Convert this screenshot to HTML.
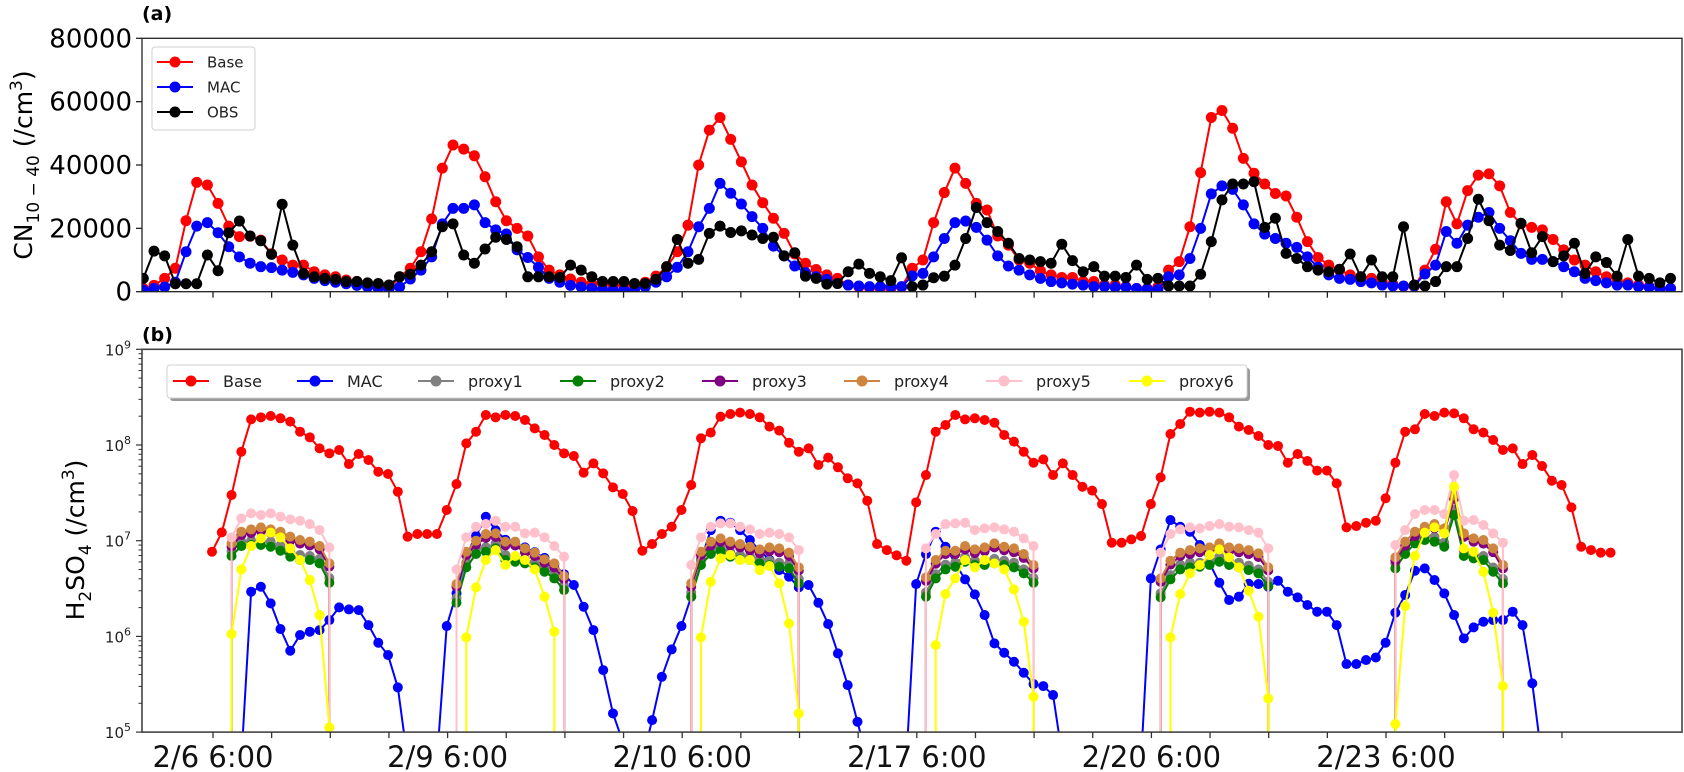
<!DOCTYPE html>
<html><head><meta charset="utf-8"><title>CN and H2SO4 time series</title>
<style>
html,body{margin:0;padding:0;background:#fff;width:1684px;height:772px;overflow:hidden;}
svg{display:block;font-family:"DejaVu Sans","Liberation Sans",sans-serif;}
</style></head>
<body>
<svg id="chart" width="1684" height="772" viewBox="0 0 1684 772" xmlns="http://www.w3.org/2000/svg" overflow="hidden">
<defs>
<clipPath id="clipA"><rect x="142" y="38" width="1540" height="254"/></clipPath>
<clipPath id="clipB"><rect x="142" y="349" width="1540" height="383"/></clipPath>
</defs>
<rect width="1684" height="772" fill="#fff"/>
<text x="142" y="20" font-size="19" font-weight="bold">(a)</text>
<text x="142" y="341" font-size="19" font-weight="bold">(b)</text>
<text transform="translate(32,165) rotate(-90)" text-anchor="middle" font-size="25">CN<tspan font-size="17" dy="7">10 − 40</tspan><tspan dy="-7"> (/cm</tspan><tspan font-size="17" dy="-10">3</tspan><tspan dy="10">)</tspan></text>
<text transform="translate(84,540) rotate(-90)" text-anchor="middle" font-size="25">H<tspan font-size="17" dy="7">2</tspan><tspan dy="-7">SO</tspan><tspan font-size="17" dy="7">4</tspan><tspan dy="-7"> (/cm</tspan><tspan font-size="17" dy="-10">3</tspan><tspan dy="10">)</tspan></text>
<g id="axA"></g>
<g id="axB"></g>
</svg>
<script>
// ---------- Panel (a) data: CN10-40 (/cm3) ----------
const aBase = [1000,2000,4200,7400,22400,34500,33700,27900,20700,17400,
17500,16300,12000,10000,8400,8400,6300,5300,4700,3700,
3200,2600,1500,1000,4700,7400,12600,23000,39000,46300,
45000,42900,36300,28400,22400,20000,17600,11000,6800,5300,
4000,3000,2500,2500,2000,2000,1800,3000,4900,7700,
12600,21000,40000,51000,55000,48100,41000,33700,28100,23200,
18400,11900,9000,7000,5300,4200,2100,1500,1200,1000,
1000,1500,7400,10000,21800,31300,39000,34200,27900,25800,
17600,14700,10000,9000,6600,5300,4500,4500,3200,3200,
2100,2100,1600,1000,1000,1500,6800,9500,20500,37600,
55000,57200,51600,42100,37400,34000,31000,30200,23500,15800,
10800,8400,6800,5300,4700,4200,3200,2400,1700,1700,
6800,13400,28400,21400,31900,36800,37200,33400,25000,21400,
20300,19500,16500,13200,10000,8400,6300,4700,3700,2800,
2100,1600,1000,1000];
const aMac = [500,1000,1500,3000,12600,20700,21800,18600,14200,11000,
9000,7900,7600,6800,6100,5300,4200,3500,3000,2500,
2000,1500,1000,800,1500,4000,6800,11000,21400,26300,
26300,27400,21800,19500,18200,13200,10800,7700,4200,3000,
2000,1500,1000,800,500,500,800,1500,3000,4700,
7700,12600,20500,26300,34200,31100,27700,23700,20000,14400,
11300,8100,6000,4700,3900,2600,2100,1800,1600,1600,
1600,1600,5000,5800,11000,16800,21800,22300,20300,16300,
11300,8100,6800,5300,4200,3200,2800,2400,2100,1600,
1600,1400,1400,1000,800,700,4700,5300,10500,20000,
30900,33400,32300,27400,21400,18200,16800,15300,14000,11000,
7700,5300,4200,3900,3200,2800,2100,1800,1800,1800,
5600,8400,19000,15300,21000,23500,25000,20000,16100,12100,
10200,10200,9500,7900,6300,4200,3500,2800,2100,2100,
1600,1400,1000,1000];
const aObs = [4200,12800,11300,2500,2500,2500,11600,6600,18600,22300,
17600,16100,11800,27600,14700,5800,4700,4200,3900,3200,
3200,2800,2600,2100,4700,5500,8400,12600,20500,21400,
11600,9000,13500,17200,16500,14200,4700,4700,4700,4500,
8400,6800,4700,3200,3200,3200,2600,2600,3900,7900,
16500,9000,10200,18400,20700,18700,19200,17900,16800,17200,
11300,12300,4900,4200,2400,2600,6300,8700,5800,4700,
3500,10700,1600,2100,4400,4900,8400,16800,26600,21800,
19000,15300,10500,10000,9500,9000,15000,9800,6300,7900,
4900,4900,4500,8400,3900,4200,1800,1800,1800,5500,
15800,29000,34000,34000,34700,20300,23200,12100,10500,7900,
6800,6300,7100,11900,4700,10000,4700,4700,20500,2100,
1800,3200,7900,7900,16800,29200,22400,14700,13000,21600,
12300,17400,9500,11300,15300,5800,11000,9200,4900,16500,
4900,4200,2800,4200];
const aYTicks = [0,20000,40000,60000,80000];
const aYTickLabels = ["0","20000","40000","60000","80000"];

// ---------- Panel (b) data: log10 H2SO4 (/cm3) ----------
const bBaseLog = [6.885,7.087,7.477,7.930,8.268,8.289,8.303,8.279,8.244,8.139,
8.080,7.965,7.913,7.948,7.801,7.906,7.843,7.721,7.697,7.512,
7.042,7.070,7.070,7.070,7.321,7.592,8.017,8.139,8.314,8.289,
8.314,8.303,8.261,8.174,8.105,8.000,7.913,7.885,7.711,7.808,
7.704,7.557,7.488,7.310,6.895,6.965,7.070,7.146,7.321,7.582,
8.070,8.129,8.296,8.324,8.338,8.324,8.289,8.192,8.150,8.024,
7.930,7.965,7.791,7.868,7.767,7.652,7.599,7.418,6.965,6.902,
6.847,6.791,7.401,7.686,8.139,8.209,8.314,8.268,8.279,8.261,
8.233,8.105,8.035,7.930,7.815,7.850,7.686,7.808,7.686,7.564,
7.523,7.383,6.979,6.979,7.014,7.049,7.383,7.662,8.115,8.220,
8.348,8.338,8.348,8.338,8.289,8.192,8.157,8.094,8.000,7.990,
7.815,7.906,7.833,7.732,7.732,7.599,7.139,7.153,7.188,7.209,
7.443,7.815,8.139,8.164,8.324,8.303,8.338,8.331,8.279,8.164,
8.129,8.052,7.948,7.965,7.801,7.895,7.780,7.627,7.582,7.348,
6.937,6.902,6.875,6.875];
const bMacLog = [-3,-3,-3,-3,6.467,6.519,6.345,6.077,5.850,6.014,
6.049,6.066,6.171,6.303,6.282,6.275,6.118,5.934,5.805,5.467,
-3,-3,-3,-3,6.108,6.45,6.85,7.05,7.25,7.11,
7.01,6.97,6.93,6.88,6.82,6.75,6.65,6.537,6.31,6.066,
5.648,5.195,4.9,-3,-3,5.125,5.578,5.864,6.108,6.415,
6.8,7.11,7.209,7.188,7.11,7.007,6.9,6.8,6.693,6.624,
6.512,6.537,6.352,6.129,5.822,5.491,5.108,-3,-3,-3,
-3,-3,6.547,6.86,7.094,6.937,6.763,6.596,6.439,6.223,
5.927,5.829,5.735,5.620,5.502,5.481,5.387,-3,-3,-3,
-3,-3,-3,-3,-3,-3,6.606,6.909,7.216,7.146,
7.094,6.955,6.763,6.561,6.380,6.415,6.55,6.547,6.519,6.582,
6.467,6.408,6.328,6.258,6.258,6.118,5.711,5.711,5.753,5.780,
5.934,6.247,6.432,6.686,6.711,6.589,6.449,6.223,5.979,6.094,
6.153,6.171,6.171,6.258,6.118,5.509,-3,-3,-3,-3,
-3,-3,-3,-3];
const proxyStarts = [2,25,49,73,97,121];
const proxy6Starts = [2,26,50,74,98,121];
const proxy1Log = [
[6.89,6.99,7.00,7.00,6.99,6.95,6.88,6.85,6.84,6.81,6.61],
[6.40,6.77,6.91,6.93,6.97,6.85,6.83,6.81,6.77,6.72,6.65,6.53],
[6.46,6.79,6.91,6.94,6.88,6.85,6.84,6.81,6.79,6.77,6.76,6.60],
[6.46,6.65,6.75,6.77,6.83,6.79,6.79,6.81,6.79,6.77,6.70,6.61],
[6.45,6.64,6.75,6.77,6.77,6.79,6.83,6.79,6.77,6.74,6.70,6.57],
[6.76,6.91,7.02,7.05,7.04,6.98,7.32,6.89,6.86,6.84,6.72,6.60]];
const proxy2Log = [
[6.840,6.944,6.955,6.955,6.937,6.895,6.833,6.798,6.798,6.763,6.561],
[6.352,6.721,6.861,6.885,6.920,6.798,6.780,6.763,6.721,6.676,6.606,6.484],
[6.415,6.746,6.861,6.895,6.833,6.805,6.798,6.763,6.746,6.728,6.711,6.554],
[6.415,6.606,6.700,6.728,6.780,6.746,6.746,6.763,6.746,6.721,6.659,6.561],
[6.408,6.596,6.700,6.721,6.728,6.746,6.780,6.746,6.721,6.693,6.659,6.526],
[6.711,6.861,6.972,7.007,6.990,6.937,7.268,6.840,6.815,6.798,6.676,6.554]];
const proxy3Log = [
[6.94,7.06,7.08,7.10,7.08,7.06,7.00,6.97,6.95,6.91,6.73],
[6.52,6.85,6.96,7.03,7.04,6.95,6.95,6.88,6.84,6.77,6.72,6.60],
[6.52,6.85,6.95,6.99,6.95,6.93,6.90,6.87,6.89,6.88,6.84,6.69],
[6.58,6.76,6.86,6.86,6.91,6.87,6.89,6.93,6.90,6.88,6.82,6.71],
[6.57,6.75,6.84,6.86,6.88,6.89,6.93,6.89,6.88,6.86,6.83,6.69],
[6.79,6.95,7.05,7.10,7.13,7.09,7.44,7.04,6.99,6.97,6.88,6.71]];
const proxy4Log = [
[6.972,7.094,7.118,7.139,7.118,7.094,7.042,7.007,6.990,6.944,6.763],
[6.547,6.885,7.000,7.070,7.077,6.990,6.990,6.920,6.875,6.805,6.763,6.631],
[6.554,6.885,6.990,7.024,6.990,6.965,6.937,6.909,6.930,6.920,6.875,6.721],
[6.617,6.798,6.895,6.895,6.944,6.909,6.930,6.972,6.937,6.920,6.861,6.746],
[6.606,6.791,6.875,6.902,6.920,6.930,6.972,6.930,6.920,6.902,6.868,6.721],
[6.826,6.990,7.094,7.146,7.174,7.129,7.477,7.077,7.024,7.007,6.920,6.746]];
const proxy5Log = [
[7.035,7.233,7.286,7.268,7.286,7.251,7.223,7.209,7.174,7.111,6.930],
[6.700,7.035,7.146,7.174,7.209,7.146,7.146,7.077,7.084,7.035,6.944,6.833],
[6.746,7.035,7.146,7.181,7.181,7.146,7.118,7.070,7.084,7.070,7.035,6.902],
[6.920,7.070,7.174,7.181,7.188,7.111,7.129,7.139,7.118,7.094,7.024,6.944],
[6.875,7.070,7.118,7.139,7.129,7.153,7.174,7.146,7.139,7.111,7.084,6.920],
[6.955,7.111,7.279,7.321,7.321,7.279,7.686,7.209,7.216,7.164,7.077,6.979]];
const proxy6Log = [
[6.024,6.700,6.944,7.024,7.084,7.035,6.920,6.798,6.589,6.223,5.05],
[5.990,6.512,6.798,6.902,6.746,6.840,6.798,6.700,6.415,6.049],
[5.990,6.571,6.815,6.850,6.798,6.798,6.693,6.735,6.554,6.136,5.195],
[5.910,6.443,6.606,6.798,6.721,6.798,6.763,6.700,6.491,6.153,5.369],
[5.990,6.443,6.659,6.746,6.850,6.909,6.826,6.721,6.477,6.206,5.352],
[5.084,6.317,6.840,7.084,7.139,7.077,7.564,6.920,6.885,6.676,6.247,5.481]];
const bYDecades = [5,6,7,8,9];
const xTickLabels = ["2/6 6:00","2/9 6:00","2/10 6:00","2/17 6:00","2/20 6:00","2/23 6:00"];
const xTickCount = 24;

// ---------- scales ----------
const NS = "http://www.w3.org/2000/svg";
const A_LEFT = 142, A_RIGHT = 1682, A_TOP = 38.3, A_BOT = 291.7;
const B_TOP = 349.3, B_BOT = 732.1;
function axX(i){ return 143.3 + i * 10.68; }
function axY(v){ return A_BOT - v / 80000 * (A_BOT - A_TOP); }
function bxX(i){ return 212 + i * 9.78; }
function bxY(l){ return 445 - (l - 8) * 95.7; }
function tickX(k){ return 213 + k * 58.65; }

function el(tag, parent){
  const e = document.createElementNS(NS, tag);
  parent.appendChild(e);
  return e;
}
function setA(e, o){ for (const k in o) e.setAttribute(k, o[k]); }

const gA = document.getElementById('axA');
const gB = document.getElementById('axB');

// ---------- Panel a ----------
const aPlot = el('g', gA);


aPlot.setAttribute('clip-path', 'url(#clipA)');

function drawLine(parent, xs, ys, color, r, name){
  const g = el('g', parent);
  
  
  let d = '';
  xs.forEach((x, i) => { d += (i ? 'L' : 'M') + x.toFixed(2) + ',' + Math.min(ys[i], 760).toFixed(2); });
  const p = el('path', g);
  setA(p, {d: d, fill: 'none', stroke: color, 'stroke-width': 2, 'stroke-linejoin': 'round'});
  
  
  xs.forEach((x, i) => {
    if (ys[i] > 760) return;
    const c = el('circle', g);
    setA(c, {cx: x.toFixed(2), cy: ys[i].toFixed(2), r: r, fill: color});
    
    
  });
  return g;
}
[[aBase, '#ff0000', 'series-base-a'], [aMac, '#0000ff', 'series-mac-a'], [aObs, '#000000', 'series-obs-a']].forEach(s => {
  drawLine(aPlot, s[0].map((v, i) => axX(i)), s[0].map(v => axY(v)), s[1], 5.5, s[2]);
});

const aFrame = el('rect', gA);
setA(aFrame, {x: A_LEFT, y: A_TOP, width: A_RIGHT - A_LEFT, height: A_BOT - A_TOP, fill: 'none', stroke: '#222', 'stroke-width': 1.3});



aYTicks.forEach((v, k) => {
  const y = axY(v);
  const t = el('line', gA);
  setA(t, {x1: A_LEFT - 6, x2: A_LEFT, y1: y, y2: y, stroke: '#222', 'stroke-width': 1.3});
  
  
  const tx = el('text', gA);
  setA(tx, {x: A_LEFT - 10, y: y + 9, 'text-anchor': 'end', 'font-size': 26});
  tx.textContent = aYTickLabels[k];
  
  
});
for (let k = 0; k < xTickCount; k++) {
  const x = tickX(k);
  const t = el('line', gA);
  setA(t, {x1: x, x2: x, y1: A_BOT, y2: A_BOT + 6, stroke: '#222', 'stroke-width': 1.3});
  
  
}

const legA = el('g', gA);


const legABox = el('rect', legA);
setA(legABox, {x: 152, y: 47, width: 103, height: 83, rx: 3, fill: '#fff', stroke: '#d0d0d0', 'stroke-width': 1});


[['Base', '#ff0000', 62], ['MAC', '#0000ff', 87], ['OBS', '#000000', 112]].forEach(e => {
  const g = el('g', legA);
  
  
  const l = el('line', g); setA(l, {x1: 157, x2: 193, y1: e[2], y2: e[2], stroke: e[1], 'stroke-width': 2});
  const c = el('circle', g); setA(c, {cx: 175, cy: e[2], r: 5.5, fill: e[1]});
  const t = el('text', g); setA(t, {x: 207, y: e[2] + 5.5, 'font-size': 15, fill: '#222'}); t.textContent = e[0];
});

// ---------- Panel b ----------
const bPlot = el('g', gB);


bPlot.setAttribute('clip-path', 'url(#clipB)');

drawLine(bPlot, bBaseLog.map((v, i) => bxX(i)), bBaseLog.map(v => bxY(v)), '#ff0000', 5, 'series-base-b');
drawLine(bPlot, bMacLog.map((v, i) => bxX(i)), bMacLog.map(v => bxY(v)), '#0000ff', 5, 'series-mac-b');

function drawProxy(data, starts, color, name){
  const g = el('g', bPlot);
  
  
  data.forEach((seg, d) => {
    const xs = seg.map((v, j) => bxX(starts[d] + j));
    const ys = seg.map(v => bxY(v));
    let path = 'M' + xs[0].toFixed(2) + ',' + (B_BOT + 10);
    xs.forEach((x, j) => { path += 'L' + x.toFixed(2) + ',' + ys[j].toFixed(2); });
    path += 'L' + xs[xs.length - 1].toFixed(2) + ',' + (B_BOT + 10);
    const p = el('path', g);
    setA(p, {d: path, fill: 'none', stroke: color, 'stroke-width': 2, 'stroke-linejoin': 'round'});
    
    
    xs.forEach((x, j) => {
      const c = el('circle', g);
      setA(c, {cx: x.toFixed(2), cy: ys[j].toFixed(2), r: 5, fill: color});
      
      
    });
  });
}
drawProxy(proxy1Log, proxyStarts, '#808080', 'series-proxy1');
drawProxy(proxy2Log, proxyStarts, '#008000', 'series-proxy2');
drawProxy(proxy3Log, proxyStarts, '#800080', 'series-proxy3');
drawProxy(proxy4Log, proxyStarts, '#cd853f', 'series-proxy4');
drawProxy(proxy5Log, proxyStarts, '#ffc0cb', 'series-proxy5');
drawProxy(proxy6Log, proxy6Starts, '#ffff00', 'series-proxy6');

const bFrame = el('rect', gB);
setA(bFrame, {x: A_LEFT, y: B_TOP, width: A_RIGHT - A_LEFT, height: B_BOT - B_TOP, fill: 'none', stroke: '#444', 'stroke-width': 1.6});



bYDecades.forEach(dd => {
  const y = bxY(dd);
  const t = el('line', gB);
  setA(t, {x1: A_LEFT - 6, x2: A_LEFT, y1: y, y2: y, stroke: '#333', 'stroke-width': 1.2});
  
  
  const tx = el('text', gB);
  setA(tx, {x: A_LEFT - 18, y: y + 6, 'text-anchor': 'end', 'font-size': 15, fill: '#222'});
  tx.textContent = '10';
  
  
  const sup = el('text', gB);
  setA(sup, {x: A_LEFT - 18, y: y - 1, 'font-size': 11, fill: '#222'});
  sup.textContent = String(dd);
  
  
  if (dd < 9) {
    for (let m = 2; m <= 9; m++) {
      const ym = bxY(dd + Math.log10(m));
      const mt = el('line', gB);
      setA(mt, {x1: A_LEFT - 3.5, x2: A_LEFT, y1: ym, y2: ym, stroke: '#333', 'stroke-width': 1});
      
      
    }
  }
});
for (let k = 0; k < xTickCount; k++) {
  const x = tickX(k);
  const t = el('line', gB);
  setA(t, {x1: x, x2: x, y1: B_BOT, y2: B_BOT + 6, stroke: '#333', 'stroke-width': 1.3});
  
  
  if (k % 4 === 0) {
    const tx = el('text', gB);
    setA(tx, {x: x, y: B_BOT + 35, 'text-anchor': 'middle', 'font-size': 29, fill: '#111'});
    tx.textContent = xTickLabels[k / 4];
    
    
  }
}

const legB = el('g', gB);


const legShadow = el('rect', legB);
setA(legShadow, {x: 170, y: 368, width: 1080, height: 33, rx: 3, fill: '#999'});


const legBBox = el('rect', legB);
setA(legBBox, {x: 167, y: 365, width: 1080, height: 33, rx: 3, fill: '#fff', stroke: '#d0d0d0', 'stroke-width': 1});


[['Base', '#ff0000', 191], ['MAC', '#0000ff', 315], ['proxy1', '#808080', 436], ['proxy2', '#008000', 578],
 ['proxy3', '#800080', 720], ['proxy4', '#cd853f', 862], ['proxy5', '#ffc0cb', 1004], ['proxy6', '#ffff00', 1147]].forEach(e => {
  const g = el('g', legB);
  
  
  const l = el('line', g); setA(l, {x1: e[2] - 18, x2: e[2] + 18, y1: 381, y2: 381, stroke: e[1], 'stroke-width': 2});
  const c = el('circle', g); setA(c, {cx: e[2], cy: 381, r: 5.5, fill: e[1]});
  const t = el('text', g); setA(t, {x: e[2] + 32, y: 387, 'font-size': 16, fill: '#222'}); t.textContent = e[0];
});
</script>
</body></html>
